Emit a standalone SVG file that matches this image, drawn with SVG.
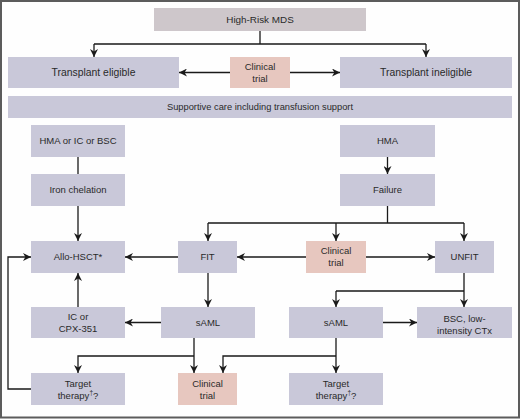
<svg xmlns="http://www.w3.org/2000/svg" width="520" height="419" viewBox="0 0 520 419">
<defs>
<style>
.box{fill:#c9c8d9}
.ct{fill:#e7c7bf}
.top{fill:#cec7cb}
text{font-family:"Liberation Sans",Arial,sans-serif;font-size:9.5px;fill:#2a2a2a;text-anchor:middle}
.big{font-size:10.4px}
.sup{font-size:9.3px}
.c{fill:none;stroke:#1a1a1a;stroke-width:1.3}
.a{marker-end:url(#ah)}
</style>
<marker id="ah" viewBox="0 0 10 10" refX="10" refY="5" markerWidth="8" markerHeight="8" markerUnits="userSpaceOnUse" orient="auto">
<path d="M0,0 L10,5 L0,10 L3,5 z" fill="#1a1a1a"/>
</marker>
</defs>
<rect x="0" y="0" width="520" height="419" fill="#fefefe"/>
<rect x="1" y="1" width="518" height="416.5" fill="none" stroke="#5c5c5c" stroke-width="2"/>

<g id="connectors">
<path class="c" d="M260,31 V44 M94,44 H426"/>
<path class="c a" d="M94,44 V57"/>
<path class="c a" d="M426,44 V57"/>
<path class="c a" d="M230,72.5 H179"/>
<path class="c a" d="M290,72.5 H340"/>
<path class="c" d="M78,157 V174"/>
<path class="c a" d="M387.5,157 V174"/>
<path class="c a" d="M78,206 V241"/>
<path class="c" d="M387.5,206 V223 M208,223 H464"/>
<path class="c a" d="M208,223 V241"/>
<path class="c a" d="M336,223 V241"/>
<path class="c a" d="M464,223 V241"/>
<path class="c a" d="M178,257 H125"/>
<path class="c a" d="M306,257 H237"/>
<path class="c a" d="M366,257 H435"/>
<path class="c a" d="M208,273 V307"/>
<path class="c a" d="M78,307 V273"/>
<path class="c a" d="M161,322.5 H125"/>
<path class="c a" d="M194,338 V373"/>
<path class="c a" d="M194,356 H78 V373"/>
<path class="c" d="M464,273 V291 M336,291 H464"/>
<path class="c a" d="M336,291 V307"/>
<path class="c a" d="M464,291 V307"/>
<path class="c a" d="M383,322.5 H417"/>
<path class="c a" d="M336,338 V373"/>
<path class="c a" d="M336,356 H223 V373"/>
<path class="c a" d="M31,389 H8 V257 H31"/>
</g>

<g id="high-risk-mds"><rect class="top" x="154" y="8" width="212" height="23"/><text x="260" y="23" class="big" style="font-size:9.9px">High-Risk MDS</text></g>
<g id="transplant-eligible"><rect class="box" x="8" y="57" width="171" height="31"/><text x="93.5" y="76.3" class="big">Transplant eligible</text></g>
<g id="clinical-trial-top"><rect class="ct" x="230" y="57" width="60" height="31"/><text x="260" y="69.8">Clinical</text><text x="260" y="81.8">trial</text></g>
<g id="transplant-ineligible"><rect class="box" x="340" y="57" width="172" height="31"/><text x="426" y="76.3" class="big">Transplant ineligible</text></g>
<g id="supportive-care"><rect class="box" x="8" y="96" width="504" height="22"/><text x="260" y="110.3" style="font-size:9.3px">Supportive care including transfusion support</text></g>
<g id="hma-ic-bsc"><rect class="box" x="31" y="125" width="94" height="32"/><text x="78" y="144.4">HMA or IC or BSC</text></g>
<g id="hma"><rect class="box" x="340" y="125" width="95" height="32"/><text x="387.5" y="144.4">HMA</text></g>
<g id="iron-chelation"><rect class="box" x="31" y="174" width="94" height="32"/><text x="78" y="193.4">Iron chelation</text></g>
<g id="failure"><rect class="box" x="340" y="174" width="95" height="32"/><text x="387.5" y="193.4">Failure</text></g>
<g id="allo-hsct"><rect class="box" x="31" y="241" width="94" height="32"/><text x="78" y="260.4">Allo-HSCT*</text></g>
<g id="fit"><rect class="box" x="178" y="241" width="59" height="32"/><text x="207.5" y="260.4">FIT</text></g>
<g id="clinical-trial-mid"><rect class="ct" x="306" y="241" width="60" height="32"/><text x="336" y="254.4">Clinical</text><text x="336" y="266.4">trial</text></g>
<g id="unfit"><rect class="box" x="435" y="241" width="59" height="32"/><text x="464.5" y="260.4">UNFIT</text></g>
<g id="ic-cpx"><rect class="box" x="31" y="307" width="94" height="31"/><text x="78" y="320">IC or</text><text x="78" y="332.3">CPX-351</text></g>
<g id="saml-left"><rect class="box" x="161" y="307" width="94" height="31"/><text x="208" y="326">sAML</text></g>
<g id="saml-right"><rect class="box" x="289" y="307" width="94" height="31"/><text x="336" y="326">sAML</text></g>
<g id="bsc-low"><rect class="box" x="417" y="307" width="95" height="31"/><text x="464.5" y="322">BSC, low-</text><text x="464.5" y="333.8">intensity CTx</text></g>
<g id="target-left"><rect class="box" x="31" y="373" width="94" height="32"/><text x="78" y="386.6">Target</text><text x="78" y="398.8">therapy<tspan font-size="6.5" dy="-3.5">†</tspan><tspan dy="3.5">?</tspan></text></g>
<g id="clinical-trial-bottom"><rect class="ct" x="178" y="373" width="59" height="32"/><text x="207.5" y="386.6">Clinical</text><text x="207.5" y="398.8">trial</text></g>
<g id="target-right"><rect class="box" x="289" y="373" width="94" height="32"/><text x="336" y="386.6">Target</text><text x="336" y="398.8">therapy<tspan font-size="6.5" dy="-3.5">†</tspan><tspan dy="3.5">?</tspan></text></g>
</svg>
